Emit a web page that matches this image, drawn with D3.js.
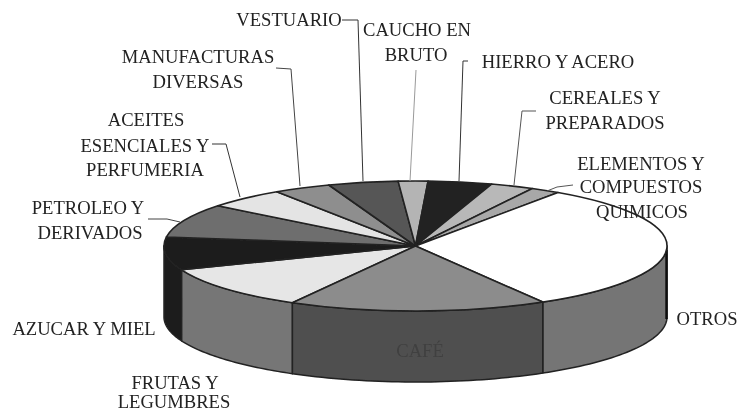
<!DOCTYPE html>
<html>
<head>
<meta charset="utf-8">
<script src="https://cdn.jsdelivr.net/npm/d3@7"></script>
<style>
html, body { margin: 0; padding: 0; background: #fff; }
svg { display: block; }
text { font-family: "Liberation Serif", serif; font-size: 18.6px; fill: #222; }
</style>
</head>
<body>
<svg id="chart"></svg>
<script>
// shares, clockwise starting at the frutas slice
const categories = ["FRUTAS Y LEGUMBRES", "AZUCAR Y MIEL", "PETROLEO Y DERIVADOS", "ACEITES ESENCIALES Y PERFUMERIA",
    "MANUFACTURAS DIVERSAS", "VESTUARIO", "CAUCHO EN BRUTO", "HIERRO Y ACERO", "CEREALES Y PREPARADOS",
    "ELEMENTOS Y COMPUESTOS QUIMICOS", "OTROS", "CAFE"]
const shares = [10.9, 8.2, 8.4, 5.1, 3.7, 4.5, 1.9, 4.1, 2.8, 1.9, 32.0, 16.6]

const topColors = ["#e6e6e6", "#1e1e1e", "#6e6e6e", "#e4e4e4", "#8e8e8e", "#565656", "#b4b4b4", "#222222", "#b8b8b8", "#a8a8a8", "#ffffff", "#8c8c8c"]
const sideColors = ["#767676", "#1e1e1e", "#6e6e6e", "#e4e4e4", "#8e8e8e", "#565656", "#b4b4b4", "#222222", "#b8b8b8", "#a8a8a8", "#747474", "#505050"]

// label text, one row per printed line: [text, x centre, baseline]
const labelLines = [
    ["VESTUARIO", 289, 26], ["CAUCHO EN", 417, 36], ["BRUTO", 416, 61],
    ["HIERRO Y ACERO", 558, 68], ["CEREALES Y", 605, 104], ["PREPARADOS", 605, 129],
    ["ELEMENTOS Y", 641, 170], ["COMPUESTOS", 641, 193], ["QUIMICOS", 642, 218],
    ["OTROS", 707, 325], ["AZUCAR Y MIEL", 84, 335], ["FRUTAS Y", 175, 389], ["LEGUMBRES", 174, 408],
    ["MANUFACTURAS", 198, 63], ["DIVERSAS", 198, 88],
    ["ACEITES", 146, 126], ["ESENCIALES Y", 145, 152], ["PERFUMERIA", 145, 176],
    ["PETROLEO Y", 88, 214], ["DERIVADOS", 90, 239]
]

const leaderLines = [
    {points: [[342, 20], [358, 20], [363, 181]], color: "#333"},
    {points: [[416, 70], [410, 181]], color: "#999"},
    {points: [[468, 61], [463, 61], [459, 181]], color: "#333"},
    {points: [[536, 111], [522, 111], [514, 185]], color: "#555"},
    {points: [[573, 185], [557, 187], [547, 191]], color: "#555"},
    {points: [[276, 68], [291, 69], [300, 186]], color: "#444"},
    {points: [[212, 144], [226, 144], [240, 197]], color: "#333"},
    {points: [[148, 219], [167, 219], [180, 222]], color: "#444"}
]

const svgWidth = 740
const svgHeight = 413
const cx = 415.5
const cy = 246
const rx = 251.5
const ry = 65
const depth = 71

const svg = d3.select("#chart").attr("width", svgWidth).attr("height", svgHeight)

const defs = svg.append("defs")
defs.append("filter").attr("id", "scan")
    .append("feGaussianBlur").attr("stdDeviation", 0.45)

const pie = d3.pie().sort(null)
    .startAngle(-150.7 * Math.PI / 180)
    .endAngle((360 - 150.7) * Math.PI / 180)
const arcs = pie(shares)
const arc = d3.arc().innerRadius(0).outerRadius(rx)

const px = a => cx + rx * Math.sin(a)
const py = a => cy - ry * Math.cos(a)

const chart = svg.append("g").attr("filter", "url(#scan)")

// wall pieces, only the front half of the rim shows (pi/2 to 3pi/2, same thing as -3pi/2 to -pi/2)
function wallPath(d) {
    const turns = [0, -2 * Math.PI, 2 * Math.PI]
    let parts = ""
    turns.forEach(t => {
        const a0 = Math.max(d.startAngle + t, Math.PI / 2)
        const a1 = Math.min(d.endAngle + t, 3 * Math.PI / 2)
        if (a1 <= a0) return
        const top = d3.range(0, 41).map(i => a0 + (a1 - a0) * i / 40)
        const pts = top.map(a => [px(a), py(a)]).concat(top.slice().reverse().map(a => [px(a), py(a) + depth]))
        parts += d3.line()(pts) + "Z"
    })
    return parts
}

chart.append("g").selectAll("path")
    .data(arcs)
    .join("path")
    .attr("d", wallPath)
    .attr("fill", (d, i) => sideColors[i])
    .attr("stroke", "#222")
    .attr("stroke-width", 1.5)
    .attr("stroke-linejoin", "round")

// dark sliver on the right end of the wall
chart.append("line")
    .attr("x1", px(Math.PI / 2) - 0.5).attr("y1", py(Math.PI / 2) + 4)
    .attr("x2", px(Math.PI / 2) - 0.5).attr("y2", py(Math.PI / 2) + depth + 2)
    .attr("stroke", "#111")
    .attr("stroke-width", 2.5)

chart.append("g")
    .attr("transform", `translate(${cx},${cy}) scale(1,${ry / rx})`)
    .selectAll("path")
    .data(arcs)
    .join("path")
    .attr("d", arc)
    .attr("fill", (d, i) => topColors[i])
    .attr("stroke", "#222")
    .attr("stroke-width", 1.6)
    .attr("stroke-linejoin", "round")
    .attr("vector-effect", "non-scaling-stroke")

const notes = svg.append("g").attr("filter", "url(#scan)")

notes.selectAll("path")
    .data(leaderLines)
    .join("path")
    .attr("d", d => d3.line()(d.points))
    .attr("fill", "none")
    .attr("stroke", d => d.color)
    .attr("stroke-width", 1)

notes.selectAll("text.label")
    .data(labelLines)
    .join("text")
    .attr("class", "label")
    .attr("x", d => d[1])
    .attr("y", d => d[2])
    .attr("text-anchor", "middle")
    .text(d => d[0])

// the cafe label sits on the dark wall and hardly shows
notes.append("text")
    .attr("x", 420)
    .attr("y", 357)
    .attr("text-anchor", "middle")
    .style("fill", "#404040")
    .text("CAFÉ")
</script>
</body>
</html>
